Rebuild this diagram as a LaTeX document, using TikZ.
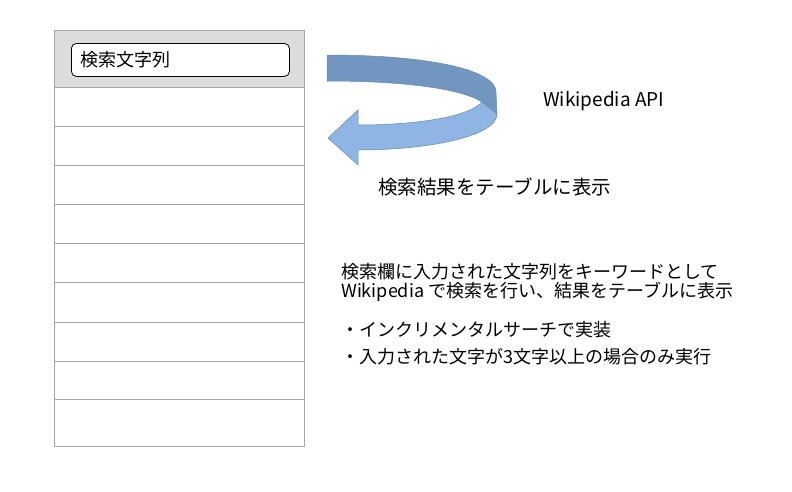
\documentclass[tikz,border=0pt]{standalone}
\usepackage{fontspec}
\setmainfont{Noto Sans CJK JP}
\usepackage{tikz}
\usetikzlibrary{positioning}

\definecolor{ribbondark}{HTML}{7296BF}
\definecolor{ribbonlight}{HTML}{8FB5E4}
\definecolor{ribbonedge}{HTML}{6489BB}
\definecolor{rowline}{HTML}{A6A6A6}
\definecolor{headfill}{HTML}{DCDCDC}

\tikzset{
  memo/.style={anchor=west, inner sep=0pt, font=\fontsize{18}{18}\selectfont},
  rowrule/.style={draw=rowline, line width=0.8pt}
}

\begin{document}
\begin{tikzpicture}[x=1pt,y=-1pt]
  \useasboundingbox (0,0) rectangle (792,491);
  % table
  \filldraw[fill=headfill,rowrule] (54,30) rectangle (304,87);
  \draw[rowrule] (54,87) rectangle (304,446);
  \foreach \y in {126,165,204,243,282,322,361,399}
    \draw[rowrule] (54,\y) -- (304,\y);
  \node[draw=black, fill=white, rounded corners=5pt, line width=0.8pt,
        anchor=north west, inner sep=0pt,
        minimum width=218pt, minimum height=33pt] (field) at (71,43) {};
  \node[memo] (fieldtext) at (80,60) {検索文字列};
  % ribbon arrow
  \filldraw[fill=ribbondark, draw=ribbonedge, line width=0.5pt]
    (327,55) .. controls (430,55) and (496,70) .. (496,92)
    -- (497,114) -- (482,102)
    .. controls (460,88) and (400,81) .. (327,81) -- cycle;
  \filldraw[fill=ribbonlight, draw=ribbonedge, line width=0.5pt]
    (482,102) -- (497,114)
    .. controls (497,136) and (430,150) .. (358,150)
    -- (358,165) -- (328,138) -- (358,110) -- (358,125)
    .. controls (420,125) and (470,116) .. (482,102) -- cycle;
  % texts
  \node[memo, font=\fontsize{19}{19}\selectfont] (api) at (543,101) {Wikipedia API};
  \node[memo, font=\fontsize{19.5}{19.5}\selectfont] (result) at (378,187) {検索結果をテーブルに表示};
  \node[memo] (desca) at (341,272) {検索欄に入力された文字列をキーワードとして};
  \node[memo] (descb) at (341,292) {Wikipedia で検索を行い、結果をテーブルに表示};
  \node[memo] (notea) at (341,330) {・インクリメンタルサーチで実装};
  \node[memo] (noteb) at (341,357) {・入力された文字が3文字以上の場合のみ実行};
\end{tikzpicture}
\end{document}
